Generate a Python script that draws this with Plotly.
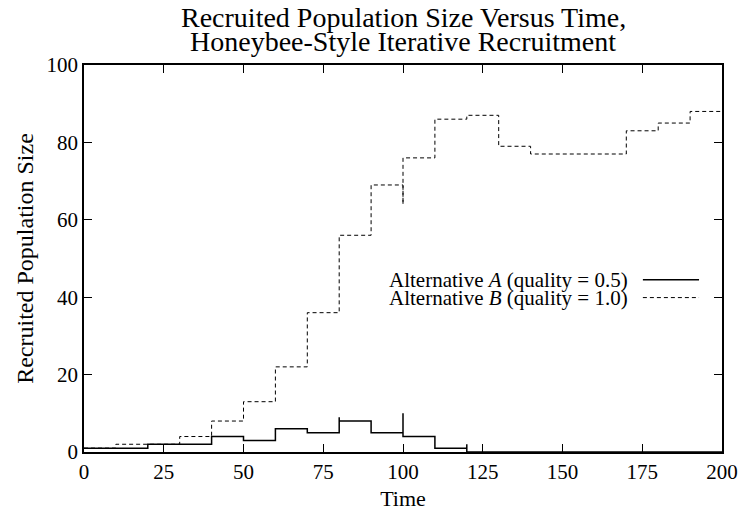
import plotly.graph_objects as go

# Alternative A (quality = 0.5) - step data (repeated times create spikes)
time_a = [0, 20, 40, 50, 60, 70, 80, 80, 90, 100, 100, 110, 120, 120, 200]
size_a = [1, 2, 4, 3, 6, 5, 9, 8, 5, 10, 4, 1, 2, 0, 0]

# Alternative B (quality = 1.0)
time_b = [0, 10, 20, 30, 40, 50, 60, 70, 80, 90, 100, 100, 110, 120, 130, 140, 170, 180, 190, 200]
size_b = [1, 2, 2, 4, 8, 13, 22, 36, 56, 69, 64, 76, 86, 87, 79, 77, 83, 85, 88, 88]

x_ticks = [0, 25, 50, 75, 100, 125, 150, 175, 200]
y_ticks = [0, 20, 40, 60, 80, 100]

label_a = "Alternative <i>A</i> (quality = 0.5)"
label_b = "Alternative <i>B</i> (quality = 1.0)"
title_lines = ["Recruited Population Size Versus Time,",
               "Honeybee-Style Iterative Recruitment"]

FONT = "Liberation Serif, Times New Roman, serif"

fig = go.Figure()
fig.add_trace(go.Scatter(x=time_a, y=size_a, mode="lines", line_shape="hv",
                         line=dict(color="black", width=1.5), name=label_a,
                         showlegend=False))
fig.add_trace(go.Scatter(x=time_b, y=size_b, mode="lines", line_shape="hv",
                         line=dict(color="black", width=1, dash="4px,3px"),
                         name=label_b, showlegend=False))

# legend drawn gnuplot-style: text right-aligned, line sample to the right
leg_x_text = 0.856
leg_x0, leg_x1 = 0.876, 0.964
rows = [(0.445, label_a, None, 1.5), (0.399, label_b, "4px,3px", 1)]
for yy, txt, dash, w in rows:
    fig.add_annotation(x=leg_x_text, y=yy, xref="paper", yref="paper",
                       text=txt, showarrow=False, xanchor="right", yanchor="middle",
                       font=dict(family=FONT, size=21, color="black"))
    fig.add_shape(type="line", xref="paper", yref="paper", x0=leg_x0, x1=leg_x1,
                  y0=yy, y1=yy, line=dict(color="black", width=w, dash=dash))

# two-line title with tight line spacing
for yy, txt in zip([1.124, 1.060], title_lines):
    fig.add_annotation(x=0.5, y=yy, xref="paper", yref="paper", text=txt,
                       showarrow=False, xanchor="center", yanchor="middle",
                       font=dict(family=FONT, size=28, color="black"))

fig.update_layout(
    width=750, height=522,
    margin=dict(l=84, r=22, t=65, b=70),
    paper_bgcolor="white", plot_bgcolor="white",
    font=dict(family=FONT, size=21, color="black"),
    xaxis=dict(range=[0, 200], tickvals=x_ticks, ticks="inside", ticklen=8,
               tickwidth=1, tickcolor="black", showline=True, linecolor="black",
               linewidth=1.5, mirror="ticks", showgrid=False, zeroline=False,
               title=dict(text="Time", font=dict(family=FONT, size=22), standoff=8),
               tickfont=dict(family=FONT, size=21)),
    yaxis=dict(range=[0, 100], tickvals=y_ticks, ticks="inside", ticklen=8,
               tickwidth=1, tickcolor="black", showline=True, linecolor="black",
               linewidth=1.5, mirror="ticks", showgrid=False, zeroline=False,
               title=dict(text="Recruited Population Size", font=dict(family=FONT, size=24),
                          standoff=6),
               tickfont=dict(family=FONT, size=21)),
)

fig.write_html("out.html")
